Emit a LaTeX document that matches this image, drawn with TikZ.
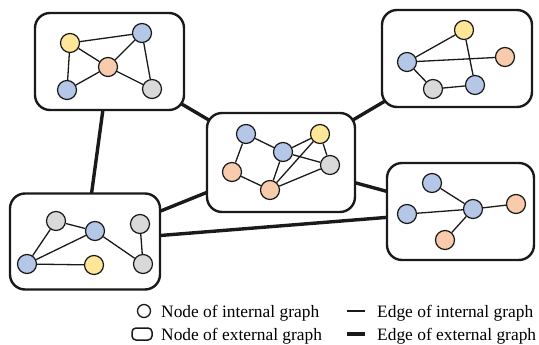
\documentclass[tikz,border=0pt]{standalone}
\usepackage{fontspec}
\setmainfont{Liberation Serif}
\pgfdeclarelayer{background}
\pgfsetlayers{background,main}
\definecolor{cblue}{HTML}{B4C7E7}
\definecolor{cyellow}{HTML}{FFE699}
\definecolor{corange}{HTML}{F8CBAD}
\definecolor{cgray}{HTML}{D9D9D9}
\definecolor{cline}{HTML}{1A1A1A}
\tikzset{
  extbox/.style={draw=cline, line width=2.4pt, rounded corners=15pt, fill=white, inner sep=0pt},
  inode/.style={circle, draw=cline, line width=1.2pt, minimum size=19pt, inner sep=0pt},
  nb/.style={inode, fill=cblue},
  ny/.style={inode, fill=cyellow},
  no/.style={inode, fill=corange},
  ng/.style={inode, fill=cgray},
  iedge/.style={draw=cline, line width=1.3pt},
  eedge/.style={draw=cline, line width=3.4pt},
  legtext/.style={anchor=base west, inner sep=0pt, font=\fontsize{17.4}{20}\selectfont}
}
\begin{document}
\begin{tikzpicture}[x=1pt,y=-1pt]
\useasboundingbox (0,0) rectangle (539,345);
% external nodes
\node[extbox, minimum width=149pt, minimum height=97pt] (b1) at (109.5,61.5) {};
\node[extbox, minimum width=150pt, minimum height=97pt] (b2) at (457,58.5) {};
\node[extbox, minimum width=148pt, minimum height=99pt] (b3) at (281,162.5) {};
\node[extbox, minimum width=147pt, minimum height=97pt] (b4) at (460.5,211.5) {};
\node[extbox, minimum width=150pt, minimum height=96pt] (b5) at (85,241.5) {};
% external edges
\begin{pgfonlayer}{background}
\draw[eedge] (b1.center) -- (b5.center);
\draw[eedge] (b1.center) -- (b3.center);
\draw[eedge] (b2.center) -- (b3.center);
\draw[eedge] (b3.center) -- (b4.center);
\draw[eedge] (b3.center) -- (b5.center);
\draw[eedge] (b5.center) -- (b4.center);
\end{pgfonlayer}
% box 1
\node[ny] (a1) at (70,43) {};
\node[nb] (a2) at (142,33) {};
\node[no] (a3) at (108,67) {};
\node[nb] (a4) at (67,90) {};
\node[ng] (a5) at (152,89) {};
\draw[iedge] (a1) -- (a2);
\draw[iedge] (a1) -- (a3);
\draw[iedge] (a1) -- (a4);
\draw[iedge] (a3) -- (a2);
\draw[iedge] (a3) -- (a4);
\draw[iedge] (a3) -- (a5);
\draw[iedge] (a2) -- (a5);
% box 2
\node[ny] (c1) at (464,30) {};
\node[nb] (c2) at (407,62) {};
\node[no] (c3) at (505,57) {};
\node[ng] (c4) at (433,89) {};
\node[nb] (c5) at (475,85) {};
\draw[iedge] (c1) -- (c2);
\draw[iedge] (c2) -- (c3);
\draw[iedge] (c1) -- (c5);
\draw[iedge] (c2) -- (c4);
\draw[iedge] (c4) -- (c5);
% box 3
\node[nb] (d1) at (246,134) {};
\node[ny] (d2) at (320,134) {};
\node[nb] (d3) at (283,152) {};
\node[ng] (d4) at (330,165) {};
\node[no] (d5) at (232,172) {};
\node[no] (d6) at (270,190) {};
\draw[iedge] (d1) -- (d3);
\draw[iedge] (d1) -- (d5);
\draw[iedge] (d5) -- (d6);
\draw[iedge] (d3) -- (d2);
\draw[iedge] (d3) -- (d4);
\draw[iedge] (d3) -- (d6);
\draw[iedge] (d2) -- (d6);
\draw[iedge] (d2) -- (d4);
\draw[iedge] (d4) -- (d6);
% box 4
\node[nb] (e1) at (432,183) {};
\node[nb] (e2) at (407,214) {};
\node[nb] (e3) at (473,209) {};
\node[no] (e4) at (516,204) {};
\node[no] (e5) at (445,240) {};
\draw[iedge] (e1) -- (e3);
\draw[iedge] (e2) -- (e3);
\draw[iedge] (e3) -- (e4);
\draw[iedge] (e3) -- (e5);
% box 5
\node[ng] (f1) at (56,221) {};
\node[nb] (f2) at (95,231) {};
\node[ng] (f3) at (140,224) {};
\node[nb] (f4) at (27,264) {};
\node[ny] (f5) at (94,265) {};
\node[ng] (f6) at (143,264) {};
\draw[iedge] (f1) -- (f2);
\draw[iedge] (f1) -- (f4);
\draw[iedge] (f4) -- (f2);
\draw[iedge] (f4) -- (f5);
\draw[iedge] (f2) -- (f6);
\draw[iedge] (f3) -- (f6);
% legend
\node[circle, draw=cline, line width=1.3pt, minimum size=13pt, inner sep=0pt] (l1) at (144,311) {};
\node[draw=cline, line width=1.5pt, rounded corners=4pt, minimum width=20pt, minimum height=12pt, inner sep=0pt] (l2) at (142,334) {};
\coordinate (l3a) at (347,311);
\coordinate (l3b) at (365,311);
\coordinate (l4a) at (347,334);
\coordinate (l4b) at (365,334);
\draw[iedge] (l3a) -- (l3b);
\draw[eedge] (l4a) -- (l4b);
\node[legtext] (t1) at (161,317) {Node of internal graph};
\node[legtext] (t2) at (161,340) {Node of external graph};
\node[legtext] (t3) at (377,317) {Edge of internal graph};
\node[legtext] (t4) at (377,340) {Edge of external graph};
\end{tikzpicture}
\end{document}
